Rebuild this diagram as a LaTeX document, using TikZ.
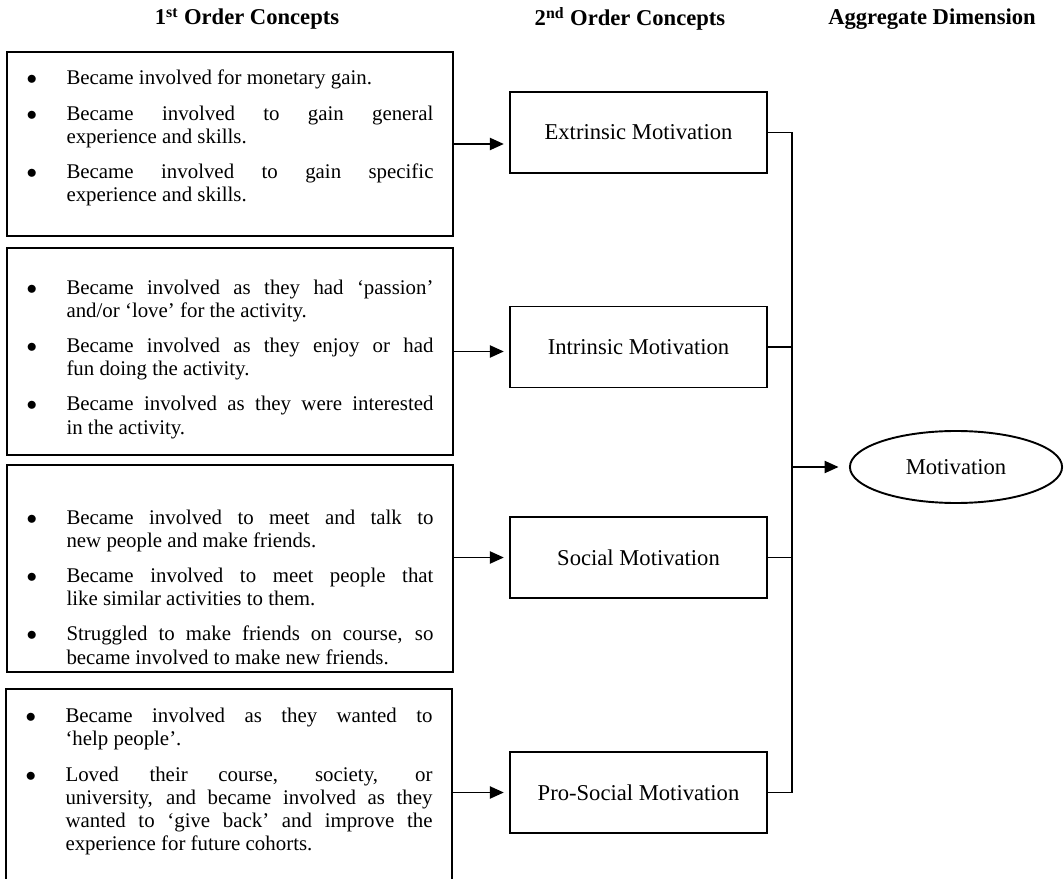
\documentclass[tikz,border=0pt]{standalone}
\usepackage{fontspec}
\setmainfont{Liberation Serif}
\usepackage{enumitem}
\usepackage{tikz}
\usetikzlibrary{arrows.meta}
\usetikzlibrary{shapes.geometric}
\usetikzlibrary{positioning}

\setlist[itemize]{label={$\bullet$}, leftmargin=23pt, labelwidth=23pt, labelsep=0pt, align=left,
  itemsep=7pt, parsep=0pt, topsep=0pt, partopsep=0pt}
\hyphenpenalty=10000
\tolerance=9000

\begin{document}
\begin{tikzpicture}[x=0.575pt, y=-0.575pt,
    every node/.style={font=\fontsize{12}{13.3}\selectfont},
    head/.style={font=\fontsize{13}{15}\selectfont\bfseries},
    conbox/.style={draw, line width=1.1pt, minimum width=256.5pt, inner sep=0pt},
    listtext/.style={text width=234pt, inner sep=0pt, align=justify, anchor=north},
    secondbox/.style={draw, line width=1.1pt, minimum width=147.8pt, minimum height=46.6pt,
      font=\fontsize{13}{15}\selectfont},
    aggbox/.style={draw, ellipse, line width=1.1pt, minimum width=122pt, minimum height=41.4pt,
      inner sep=0pt, font=\fontsize{13}{15}\selectfont},
    link/.style={line width=0.9pt},
    arr/.style={link, -{Triangle[length=8pt,width=7pt]}, shorten >=3pt}]
            \clip (0,0) rectangle (1064,879);

            \node[head] (h1) at (247,19) {1\textsuperscript{st} Order Concepts};
            \node[head] (h2) at (630,19) {2\textsuperscript{nd} Order Concepts};
            \node[head] (h3) at (932,19) {Aggregate Dimension};

            \node[conbox, minimum height=105.8pt] (c1) at (230,144) {};
            \node[conbox, minimum height=119pt] (c2) at (230,351.5) {};
            \node[conbox, minimum height=119pt] (c3) at (230,568.5) {};
            \node[conbox, minimum height=121.3pt] (c4) at (229,794.5) {};

            \node[listtext] (t1) at ([yshift=-6pt]c1.north) {%
              \begin{itemize}
                \item Became involved for monetary gain.
                \item Became involved to gain general\linebreak experience and skills.
                \item Became involved to gain specific\linebreak experience and skills.
              \end{itemize}};
            \node[listtext] (t2) at ([yshift=-13.5pt]c2.north) {%
              \begin{itemize}
                \item Became involved as they had ‘passion’\linebreak and/or ‘love’ for the activity.
                \item Became involved as they enjoy or had\linebreak fun doing the activity.
                \item Became involved as they were interested\linebreak in the activity.
              \end{itemize}};
            \node[listtext] (t3) at ([yshift=-21pt]c3.north) {%
              \begin{itemize}
                \item Became involved to meet and talk to\linebreak new people and make friends.
                \item Became involved to meet people that\linebreak like similar activities to them.
                \item Struggled to make friends on course, so\linebreak became involved to make new friends.
              \end{itemize}};
            \node[listtext] (t4) at ([yshift=-6.5pt]c4.north) {%
              \begin{itemize}
                \item Became involved as they wanted to\linebreak ‘help people’.
                \item Loved their course, society, or\linebreak university, and became involved as they\linebreak
                  wanted to ‘give back’ and improve the\linebreak experience for future cohorts.
              \end{itemize}};

            \node[secondbox] (ext) at (638.5,132.5) {Extrinsic Motivation};
            \node[secondbox] (intr) at (638.5,347) {Intrinsic Motivation};
            \node[secondbox] (soc) at (638.5,557.5) {Social Motivation};
            \node[secondbox] (pro) at (638.5,792.5) {Pro-Social Motivation};

            \node[aggbox] (mot) at (956,467) {Motivation};

            \draw[arr] (c1.east) -- (c1.east -| ext.west);
            \draw[arr] (c2.east) -- (c2.east -| intr.west);
            \draw[arr] (soc.west -| c3.east) -- (soc.west);
            \draw[arr] (pro.west -| c4.east) -- (pro.west);

            \coordinate (joint) at (792,467);
            \draw[link] (ext.east) -- (ext.east -| joint) -- (pro.east -| joint) -- (pro.east);
            \draw[link] (intr.east) -- (intr.east -| joint);
            \draw[link] (soc.east) -- (soc.east -| joint);
            \draw[arr, shorten >=6pt] (joint) -- (mot.west);
\end{tikzpicture}
\end{document}
